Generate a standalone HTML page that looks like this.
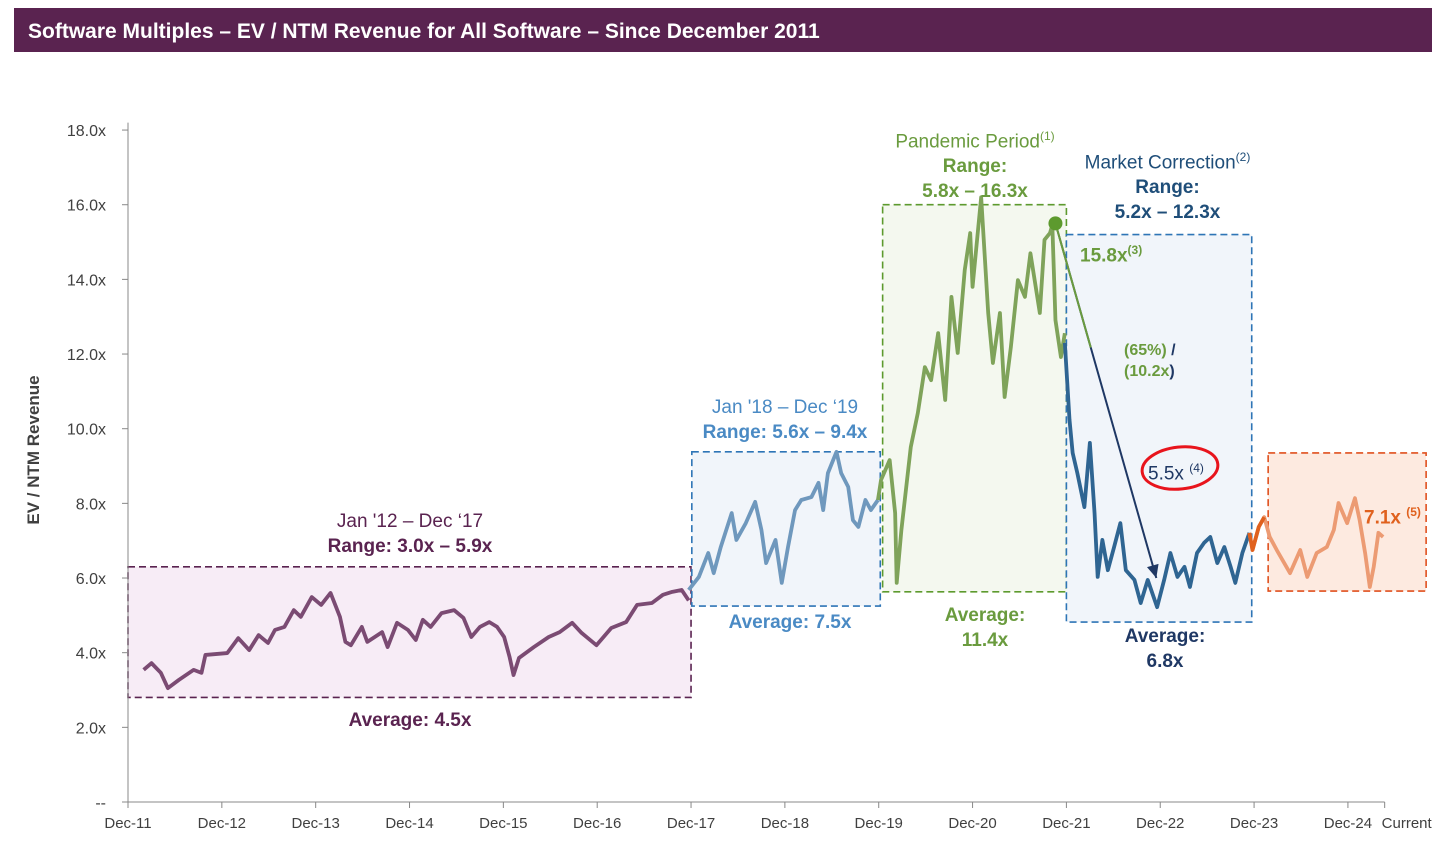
<!DOCTYPE html>
<html><head><meta charset="utf-8"><style>
body{margin:0;background:#fff;width:1456px;height:846px;overflow:hidden;font-family:"Liberation Sans",Arial,sans-serif}
</style></head><body>
<svg width="1456" height="846" xmlns="http://www.w3.org/2000/svg" font-family="Liberation Sans, Arial, sans-serif">
<rect x="14" y="8" width="1418" height="44" fill="#5a2350"/>
<text x="28" y="38" fill="#fff" font-size="21" font-weight="bold">Software Multiples – EV / NTM Revenue for All Software – Since December 2011</text>
<g id="boxes"></g>
<g id="axes"></g>
<g id="lines"></g>
<g id="ann"></g>
</svg>
<script>
const NS="http://www.w3.org/2000/svg";
// x in months since Dec-11, y in multiple
const xTickLabels=["Dec-11","Dec-12","Dec-13","Dec-14","Dec-15","Dec-16","Dec-17","Dec-18","Dec-19","Dec-20","Dec-21","Dec-22","Dec-23","Dec-24","Current"];
const xTickMonths=[0,12,24,36,48,60,72,84,96,108,120,132,144,156,160.7];
const yTicks=[0,2,4,6,8,10,12,14,16,18];
const purpleM=[2.0,3.0,4.2,5.1,6.5,8.4,9.4,9.9,12.7,14.1,15.5,16.7,17.9,18.8,20.0,21.2,22.1,23.5,24.7,25.9,27.1,27.8,28.5,29.9,30.6,32.5,33.2,34.4,35.8,36.8,37.7,38.7,40.1,41.7,42.9,43.9,45.0,46.2,47.2,48.1,48.8,49.3,50.0,51.9,53.8,55.2,56.8,58.0,59.9,61.8,63.7,65.1,67.0,68.4,69.6,70.8,71.7];
const purpleV=[3.54,3.72,3.46,3.05,3.27,3.54,3.46,3.94,3.99,4.39,4.07,4.47,4.26,4.61,4.69,5.14,4.96,5.49,5.28,5.6,4.96,4.29,4.2,4.69,4.29,4.55,4.15,4.8,4.61,4.34,4.88,4.69,5.06,5.14,4.93,4.42,4.69,4.82,4.69,4.42,3.88,3.4,3.86,4.15,4.42,4.55,4.8,4.53,4.2,4.66,4.82,5.28,5.33,5.55,5.63,5.68,5.4];
const blueM=[71.7,73,74.2,74.9,75.8,77.2,77.8,79,80.2,81,81.6,82.8,83.6,84.4,85.3,86.1,87.4,88.3,88.9,89.5,90.6,91.2,92.1,92.7,93.4,94.3,95,95.9];
const blueV=[5.68,6.03,6.67,6.13,6.83,7.74,7.02,7.47,8.04,7.29,6.4,7.02,5.87,6.83,7.82,8.09,8.17,8.55,7.82,8.81,9.38,8.81,8.44,7.55,7.37,8.09,7.82,8.09];
const greenM=[95.9,96.3,97.4,98.1,98.3,98.9,100.1,101,101.9,102.7,103.6,104.5,105.3,106.1,107,107.7,108,109.1,110,110.6,111.5,112.1,112.9,113.8,114.7,115.4,116.6,117.2,117.9,118.2,118.6,119.3,119.8];
const greenV=[8.09,8.63,9.16,7.74,5.87,7.29,9.51,10.42,11.65,11.3,12.56,10.77,13.53,12.03,14.25,15.24,13.8,16.2,13.1,11.76,13.1,10.85,12.19,13.98,13.53,14.7,13.1,15.06,15.24,15.46,12.91,11.92,12.56];
const navyM=[119.8,120.4,120.8,121.4,122.3,123,123.6,124,124.6,125.3,126.1,126.9,127.6,128.7,129.5,130.4,131.6,132.5,133.3,134.2,135.1,135.8,136.7,137.6,138.4,139.3,140.2,141,141.6,142.5,143.4];
const navyV=[12.3,10.23,9.35,8.81,7.9,9.62,7.74,6.03,7.02,6.21,6.83,7.47,6.21,5.95,5.33,5.95,5.22,5.95,6.67,6.03,6.3,5.76,6.67,6.94,7.1,6.4,6.83,6.3,5.87,6.67,7.21];
const orangeM=[143.4,143.8,144.6,145.3,146,146.9,148.6,149.9,150.8,152,153.3,154.2,154.8,155.9,156.9,157.5,158.2,158.8,159.3,159.9,160.5];
const orangeV=[7.21,6.75,7.37,7.63,7.1,6.75,6.13,6.75,6.03,6.67,6.83,7.29,8.01,7.47,8.14,7.55,6.67,5.76,6.3,7.21,7.1];
// boxes: [m0,m1,v0,v1]
const boxPurple=[0,72,2.8,6.3], boxBlue=[72.1,96.2,5.25,9.38], boxGreen=[96.5,120,5.63,16.0], boxNavy=[120,143.7,4.82,15.2], boxOrange=[145.8,166,5.65,9.35];
const peakPoint=[118.6,15.5], troughPoint=[131.5,6.0];

const X=m=>128+m*7.82;
const Y=v=>802-v*37.33;
function mk(tag,attrs,parent){const e=document.createElementNS(NS,tag);for(const k in attrs)e.setAttribute(k,attrs[k]);document.getElementById(parent).appendChild(e);return e;}
function box(b,stroke,fill,name){const e=mk('rect',{x:X(b[0]),y:Y(b[3]),width:X(b[1])-X(b[0]),height:Y(b[2])-Y(b[3]),fill:fill,stroke:stroke,'stroke-width':1.6,'stroke-dasharray':'7 4'},'boxes');

}
box(boxPurple,'#5a2350','#f7ecf6','box-2012-2017');
box(boxBlue,'#2e75b6','#f1f5fa','box-2018-2019');
box(boxGreen,'#5d9a2e','#f4f8ef','box-pandemic');
box(boxNavy,'#2e75b6','#f1f5fa','box-correction');
box(boxOrange,'#e0501e','#fdeae0','box-current');
// axes
let a=mk('line',{x1:128,y1:Y(18.2),x2:128,y2:802,stroke:'#888','stroke-width':1},'axes');


a=mk('line',{x1:128,y1:802,x2:X(160.7),y2:802,stroke:'#888','stroke-width':1},'axes');


yTicks.forEach(v=>{mk('line',{x1:122,y1:Y(v),x2:128,y2:Y(v),stroke:'#888'},'axes');
const t=mk('text',{x:106,y:Y(v)+6,'text-anchor':'end','font-size':16,fill:'#404040'},'axes');t.textContent=v===0?'--':v.toFixed(1)+'x';

});
xTickMonths.forEach((m,i)=>{mk('line',{x1:X(m),y1:802,x2:X(m),y2:808,stroke:'#888'},'axes');
const t=mk('text',{x:X(m)+(i===14?22:0),y:828,'text-anchor':'middle','font-size':15,fill:'#404040'},'axes');t.textContent=xTickLabels[i];

});
const yt=mk('text',{x:0,y:0,transform:'translate(39,450) rotate(-90)','text-anchor':'middle','font-size':17,'font-weight':'bold',fill:'#404040'},'axes');yt.textContent='EV / NTM Revenue';


function line(ms,vs,c,name){const e=mk('polyline',{points:ms.map((m,i)=>X(m)+','+Y(vs[i])).join(' '),fill:'none',stroke:c,'stroke-width':3.8,'stroke-linejoin':'round'},'lines');

}
line(purpleM,purpleV,'#7b4b73','series-2012-2017');
line(blueM,blueV,'#6f98bd','series-2018-2019');
line(greenM,greenV,'#7fa35a','series-pandemic');
line(navyM,navyV,'#2f6592','series-correction');
line(orangeM,orangeV,'#ec9b73','series-current');
line(orangeM.slice(0,4),orangeV.slice(0,4),'#e0611e','series-current-start');
// arrow
let ar=mk('line',{x1:X(peakPoint[0]),y1:Y(peakPoint[1]),x2:X(troughPoint[0]),y2:Y(troughPoint[1]),stroke:'#1f3864','stroke-width':2},'ann');


mk('line',{x1:X(peakPoint[0]),y1:Y(peakPoint[1]),x2:X(peakPoint[0])+(X(troughPoint[0])-X(peakPoint[0]))*0.35,y2:Y(peakPoint[1])+(Y(troughPoint[1])-Y(peakPoint[1]))*0.35,stroke:'#6a9b3e','stroke-width':2},'ann');
(function(){const x2=X(troughPoint[0]),y2=Y(troughPoint[1]);const x1=X(peakPoint[0]),y1=Y(peakPoint[1]);const ang=Math.atan2(y2-y1,x2-x1);const L=13,W=6;
const p=[[x2,y2],[x2-L*Math.cos(ang)+W*Math.sin(ang),y2-L*Math.sin(ang)-W*Math.cos(ang)],[x2-L*Math.cos(ang)-W*Math.sin(ang),y2-L*Math.sin(ang)+W*Math.cos(ang)]];
mk('polygon',{points:p.map(q=>q.join(',')).join(' '),fill:'#1f3864'},'ann');})();
let dot=mk('circle',{cx:X(peakPoint[0]),cy:Y(peakPoint[1]),r:7,fill:'#5d9a2e'},'ann');


let el=mk('ellipse',{cx:1180,cy:468,rx:38,ry:21,fill:'none',stroke:'#e8141c','stroke-width':3,transform:'rotate(-6 1180 468)'},'ann');


</script>
<div style="position:absolute;left:0;top:0;width:1456px;height:846px;font-size:19px;line-height:25px">
<div style="position:absolute;left:270px;top:509px;width:280px;text-align:center;color:#5a2350">Jan '12 – Dec ‘17<br><b>Range: 3.0x – 5.9x</b></div>
<div style="position:absolute;left:270px;top:708px;width:280px;text-align:center;color:#5a2350;font-weight:bold">Average: 4.5x</div>
<div style="position:absolute;left:660px;top:395px;width:250px;text-align:center;color:#4a8ac4">Jan '18 – Dec ‘19<br><b>Range: 5.6x – 9.4x</b></div>
<div style="position:absolute;left:660px;top:610px;width:260px;text-align:center;color:#4a8ac4;font-weight:bold">Average: 7.5x</div>
<div style="position:absolute;left:870px;top:124px;width:210px;text-align:center;color:#6a9b3e">Pandemic Period<sup style="font-size:12px">(1)</sup><br><b>Range:<br>5.8x – 16.3x</b></div>
<div style="position:absolute;left:880px;top:603px;width:210px;text-align:center;color:#6a9b3e;font-weight:bold">Average:<br>11.4x</div>
<div style="position:absolute;left:1060px;top:145px;width:215px;text-align:center;color:#1f4e79">Market Correction<sup style="font-size:12px">(2)</sup><br><b>Range:<br>5.2x – 12.3x</b></div>
<div style="position:absolute;left:1060px;top:624px;width:210px;text-align:center;color:#1f3864;font-weight:bold">Average:<br>6.8x</div>
<div style="position:absolute;left:1080px;top:238px;color:#6a9b3e;font-weight:bold">15.8x<sup style="font-size:12px">(3)</sup></div>
<div style="position:absolute;left:1124px;top:340px;font-size:16px;line-height:21px;font-weight:bold"><span style="color:#6a9b3e">(65%)</span> <span style="color:#1f3864">/</span><br><span style="color:#6a9b3e">(10.2x</span><span style="color:#1f3864">)</span></div>
<div style="position:absolute;left:1148px;top:456px;color:#1f3864">5.5x <sup style="font-size:12px">(4)</sup></div>
<div style="position:absolute;left:1364px;top:500px;color:#e0611e;font-weight:bold">7.1x <sup style="font-size:12px">(5)</sup></div>
</div>
</body></html>
